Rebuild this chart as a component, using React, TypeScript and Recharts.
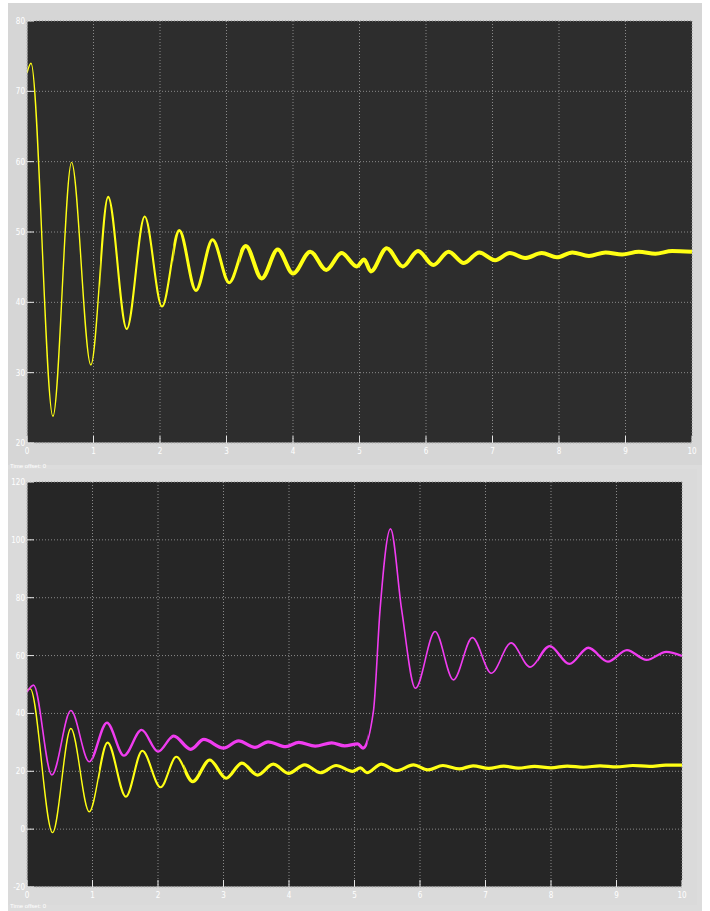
import { LineChart, Line, XAxis, YAxis, CartesianGrid } from "recharts";

// x ticks shared by both scopes (seconds)
const xTicks = [0, 1, 2, 3, 4, 5, 6, 7, 8, 9, 10];
const topYTicks = [20, 30, 40, 50, 60, 70, 80];
const bottomYTicks = [-20, 0, 20, 40, 60, 80, 100, 120];

// top scope, yellow trace (peaks / troughs)
const topT = [0, 0.06, 0.39, 0.67, 0.96, 1.22, 1.5, 1.77, 2.03, 2.29, 2.54, 2.79, 3.04, 3.29, 3.53, 3.77, 4.0, 4.26, 4.5, 4.73, 4.96, 5.07, 5.17, 5.41, 5.65, 5.88, 6.11, 6.34, 6.57, 6.8, 7.04, 7.26, 7.49, 7.74, 7.97, 8.2, 8.45, 8.7, 8.95, 9.2, 9.45, 9.7, 10];
const topV = [72.6, 74.0, 23.8, 59.9, 31.1, 55.0, 36.2, 52.2, 39.4, 50.2, 41.7, 48.9, 42.8, 48.0, 43.4, 47.5, 44.1, 47.2, 44.6, 47.0, 45.1, 46.1, 44.4, 47.7, 45.1, 47.3, 45.3, 47.2, 45.6, 47.1, 46.0, 47.0, 46.3, 47.0, 46.4, 47.1, 46.6, 47.1, 46.8, 47.2, 46.9, 47.3, 47.2];

// bottom scope, yellow trace
const botYelT = [0, 0.05, 0.39, 0.67, 0.95, 1.23, 1.51, 1.76, 2.04, 2.28, 2.53, 2.79, 3.04, 3.28, 3.52, 3.76, 3.99, 4.24, 4.48, 4.72, 4.97, 5.09, 5.19, 5.41, 5.64, 5.9, 6.12, 6.35, 6.6, 6.81, 7.05, 7.28, 7.5, 7.75, 8.0, 8.25, 8.5, 8.75, 9.0, 9.25, 9.5, 9.75, 10];
const botYelV = [48.0, 48.5, -1.2, 34.8, 6.0, 29.9, 11.2, 27.1, 14.5, 25.0, 16.4, 23.9, 17.6, 22.8, 18.7, 22.5, 19.3, 22.2, 19.5, 22.0, 20.0, 21.2, 19.5, 22.5, 20.2, 22.2, 20.5, 22.0, 20.8, 21.9, 21.0, 21.8, 21.1, 21.7, 21.2, 21.8, 21.4, 21.9, 21.5, 22.0, 21.7, 22.1, 22.1];

// bottom scope, magenta trace
const botMagT = [0, 0.1, 0.38, 0.67, 0.95, 1.22, 1.48, 1.75, 2.0, 2.24, 2.5, 2.7, 3.0, 3.23, 3.48, 3.68, 3.95, 4.15, 4.4, 4.65, 4.85, 5.05, 5.13, 5.29, 5.39, 5.55, 5.72, 5.93, 6.23, 6.51, 6.8, 7.09, 7.39, 7.68, 7.98, 8.28, 8.57, 8.87, 9.16, 9.46, 9.76, 10];
const botMagV = [47.4, 49.8, 18.7, 41.0, 23.3, 36.8, 25.4, 34.3, 26.8, 32.2, 27.6, 31.0, 28.0, 30.5, 28.3, 30.2, 28.5, 30.0, 28.7, 29.8, 28.8, 29.5, 28.0, 41.0, 75.8, 103.8, 75.8, 48.7, 68.3, 51.6, 66.2, 53.9, 64.4, 56.0, 63.3, 57.1, 62.7, 57.9, 61.9, 58.5, 61.3, 59.9];

const zip = (t: number[], v: number[]) => t.map((x, i) => ({ t: x, v: v[i] }));

const YELLOW = "#ffff14";
const MAGENTA = "#f03cf0";
const TICK = "#e6e6e6";
const FRAME = "#cfcfcf";
const label = {
  fill: "#ffffff",
  fontSize: 8,
  fontFamily: "'Liberation Sans Narrow', 'DejaVu Sans Condensed', sans-serif",
};

const BottomTick = ({ x, y, payload }: any) => (
  <g>
    <line x1={x} x2={x} y1={y} y2={y - 7} stroke={TICK} />
    <text x={x} y={y + 11} textAnchor="middle" {...label}>
      {payload.value}
    </text>
  </g>
);
const TopTick = ({ x, y }: any) => <line x1={x} x2={x} y1={y} y2={y + 7} stroke={TICK} />;
const LeftTick = ({ x, y, payload }: any) => (
  <g>
    <line x1={x} x2={x + 7} y1={y} y2={y} stroke={TICK} />
    <text x={x - 2} y={y + 3} textAnchor="end" {...label}>
      {payload.value}
    </text>
  </g>
);
const RightTick = ({ x, y }: any) => <line x1={x} x2={x - 7} y1={y} y2={y} stroke={TICK} />;

// a trace is drawn several times, each copy clipped to a time window,
// so the line can get thicker as the scope trace gets noisier
interface Seg {
  id: string;
  data: { t: number; v: number }[];
  color: string;
  w: number;
  from: number;
  to: number;
}

const Y_AXIS_W = 19;

function Scope({
  width,
  height,
  margin,
  xH,
  yTicks,
  bg,
  segs,
}: {
  width: number;
  height: number;
  margin: { top: number; right: number; left: number; bottom: number };
  xH: number;
  yTicks: number[];
  bg: string;
  segs: Seg[];
}) {
  const dom: [number, number] = [yTicks[0], yTicks[yTicks.length - 1]];
  const left = margin.left + Y_AXIS_W;
  const plotW = width - left - margin.right;
  const tx = (t: number) => left + (t / 10) * plotW;
  const css = segs
    .map((s) => `.${s.id} .recharts-line-curve { clip-path: url(#clip-${s.id}); }`)
    .join("\n");
  return (
    <>
      <style>{css}</style>
      <svg width={0} height={0} style={{ position: "absolute" }}>
        <defs>
          {segs.map((s) => (
            <clipPath key={s.id} id={`clip-${s.id}`} clipPathUnits="userSpaceOnUse">
              <rect x={tx(s.from)} y={0} width={tx(s.to) - tx(s.from)} height={height} />
            </clipPath>
          ))}
        </defs>
      </svg>
      <LineChart width={width} height={height} margin={margin}>
        <CartesianGrid
          fill={bg}
          fillOpacity={1}
          stroke="#8a8a8a"
          strokeDasharray="1 2"
          horizontalValues={yTicks}
          verticalValues={xTicks}
        />
        <XAxis
          type="number"
          dataKey="t"
          domain={[0, 10]}
          ticks={xTicks}
          interval={0}
          height={xH}
          tickSize={0}
          tickMargin={0}
          tickLine={false}
          axisLine={{ stroke: FRAME }}
          tick={<BottomTick />}
        />
        <XAxis
          xAxisId="top"
          orientation="top"
          type="number"
          dataKey="t"
          domain={[0, 10]}
          ticks={xTicks}
          interval={0}
          height={0}
          tickSize={0}
          tickMargin={0}
          tickLine={false}
          axisLine={{ stroke: FRAME }}
          tick={<TopTick />}
        />
        <YAxis
          type="number"
          domain={dom}
          ticks={yTicks}
          interval={0}
          width={Y_AXIS_W}
          tickSize={0}
          tickMargin={0}
          tickLine={false}
          axisLine={{ stroke: FRAME }}
          tick={<LeftTick />}
        />
        <YAxis
          yAxisId="right"
          orientation="right"
          type="number"
          domain={dom}
          ticks={yTicks}
          interval={0}
          width={0}
          tickSize={0}
          tickMargin={0}
          tickLine={false}
          axisLine={{ stroke: FRAME }}
          tick={<RightTick />}
        />
        {segs.map((s) => (
          <Line
            key={s.id}
            className={s.id}
            data={s.data}
            dataKey="v"
            type="monotone"
            stroke={s.color}
            strokeWidth={s.w}
            dot={false}
            activeDot={false}
            isAnimationActive={false}
          />
        ))}
      </LineChart>
    </>
  );
}

const topData = zip(topT, topV);
const yelData = zip(botYelT, botYelV);
const magData = zip(botMagT, botMagV);

const topSegs: Seg[] = [
  { id: "top-a", data: topData, color: YELLOW, w: 1.4, from: 0, to: 1.1 },
  { id: "top-b", data: topData, color: YELLOW, w: 2.1, from: 1.1, to: 2.2 },
  { id: "top-c", data: topData, color: YELLOW, w: 3, from: 2.2, to: 3.2 },
  { id: "top-d", data: topData, color: YELLOW, w: 4, from: 3.2, to: 10 },
];

const bottomSegs: Seg[] = [
  { id: "yel-a", data: yelData, color: YELLOW, w: 1.4, from: 0, to: 1.1 },
  { id: "yel-b", data: yelData, color: YELLOW, w: 2.1, from: 1.1, to: 2.4 },
  { id: "yel-c", data: yelData, color: YELLOW, w: 3.2, from: 2.4, to: 10 },
  { id: "mag-a", data: magData, color: MAGENTA, w: 1.6, from: 0, to: 1.0 },
  { id: "mag-b", data: magData, color: MAGENTA, w: 2.4, from: 1.0, to: 2.2 },
  { id: "mag-c", data: magData, color: MAGENTA, w: 3.2, from: 2.2, to: 5.2 },
  { id: "mag-d", data: magData, color: MAGENTA, w: 1.6, from: 5.2, to: 7.8 },
  { id: "mag-e", data: magData, color: MAGENTA, w: 2.3, from: 7.8, to: 10 },
];

const caption = {
  position: "absolute" as const,
  left: 10,
  color: "#ffffff",
  fontSize: 6,
  fontFamily: "'Liberation Sans Narrow', sans-serif",
};

export default function App() {
  return (
    <div style={{ position: "absolute", left: 0, top: 0, width: 710, height: 911, background: "#ffffff" }}>
      <div style={{ position: "absolute", left: 8, top: 3, width: 694, height: 908, background: "#dcdcdc" }} />
      <div style={{ position: "absolute", left: 8, top: 3, width: 694, height: 462, background: "#d6d6d6" }}>
        <Scope
          width={694}
          height={462}
          margin={{ top: 18, right: 10, left: 0, bottom: 0 }}
          xH={22}
          yTicks={topYTicks}
          bg="#2d2d2d"
          segs={topSegs}
        />
      </div>
      <div style={{ ...caption, top: 463 }}>Time offset: 0</div>
      <div style={{ position: "absolute", left: 8, top: 469, width: 689, height: 436, background: "#dadada" }}>
        <Scope
          width={689}
          height={436}
          margin={{ top: 13, right: 15, left: 0, bottom: 0 }}
          xH={18}
          yTicks={bottomYTicks}
          bg="#262626"
          segs={bottomSegs}
        />
      </div>
      <div style={{ ...caption, top: 903 }}>Time offset: 0</div>
    </div>
  );
}
